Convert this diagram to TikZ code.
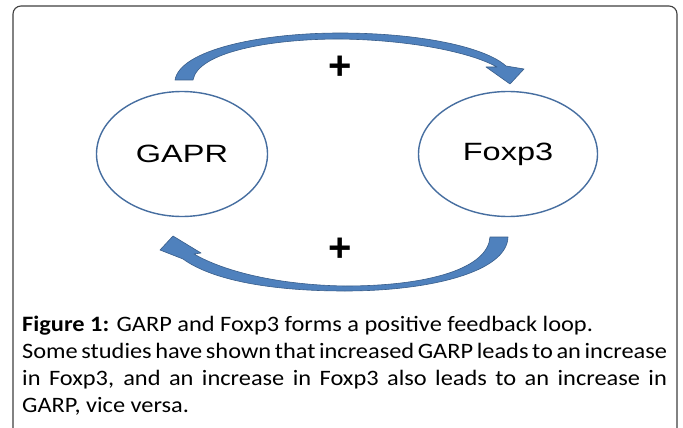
\documentclass[tikz,border=0pt]{standalone}
\usepackage{fontspec}
\setmainfont{Carlito}
\newfontfamily\arialf{Liberation Sans}
\usetikzlibrary{shapes.geometric}
\definecolor{arrowblue}{RGB}{79,129,189}
\definecolor{arrowedge}{RGB}{56,93,138}
\definecolor{ellblue}{RGB}{70,110,160}
\tikzset{
  bubble/.style={ellipse, draw=ellblue, line width=1.4pt, inner sep=0pt, font=\arialf\fontsize{25}{25}\selectfont},
  bandarrow/.style={fill=arrowblue, draw=arrowedge, line width=0.6pt, line join=round},
  plussign/.style={font=\arialf\fontsize{40}{40}\selectfont\bfseries, inner sep=0pt},
  frameline/.style={line width=1.1pt, draw=black!75, rounded corners=8pt}
}
\begin{document}
\begin{tikzpicture}[x=1pt,y=-1pt]
\useasboundingbox (0,0) rectangle (683,428);
\clip (0,0) rectangle (683,428);
\fill[white] (0,0) rectangle (683,428);
% frame
\draw[frameline] (13,440) -- (13,6) -- (677,6) -- (677,440);
% ellipses
\node[bubble, minimum width=171pt, minimum height=125pt] (gapr) at (182,154) {\scalebox{1.3}[1]{GAPR}};
\node[bubble, minimum width=179pt, minimum height=125pt] (foxp) at (508,154) {\scalebox{1.3}[1]{Foxp3}};
% top arrow
\draw[bandarrow] (175,80) .. controls (180,50) and (260,33) .. (340,33)
  .. controls (420,33) and (485,47) .. (506,66)
  -- (524,69) -- (510,84) -- (486,67) -- (497,67)
  .. controls (470,52) and (410,40) .. (340,39)
  .. controls (270,39) and (198,52) .. (193,80) -- cycle;
% bottom arrow
\draw[bandarrow] (508,237) .. controls (507,272) and (430,291) .. (345,291)
  .. controls (270,291) and (212,280) .. (183,259)
  -- (160,250) -- (173,236) -- (201,253) -- (194,254)
  .. controls (225,272) and (280,285) .. (345,286)
  .. controls (430,286) and (488,268) .. (490,237) -- cycle;
% plus signs
\node[plussign] (plustop) at (340,68) {+};
\node[plussign] (plusbot) at (340,250) {+};
% caption
\node[anchor=north west, inner sep=0pt] (caption) at (22,316) {\scalebox{1.108}[1]{\parbox{582pt}{\fontsize{22}{27}\selectfont
\hyphenpenalty=10000 \exhyphenpenalty=10000
\spaceskip=0.226em plus 0.4em minus 0.15em
\textbf{Figure 1:} GARP and Foxp3 forms a positive feedback loop.\\
Some studies have shown that increased GARP leads to an increase\linebreak
in Foxp3, and an increase in Foxp3 also leads to an increase in\linebreak
GARP, vice versa.}}};
\end{tikzpicture}
\end{document}
